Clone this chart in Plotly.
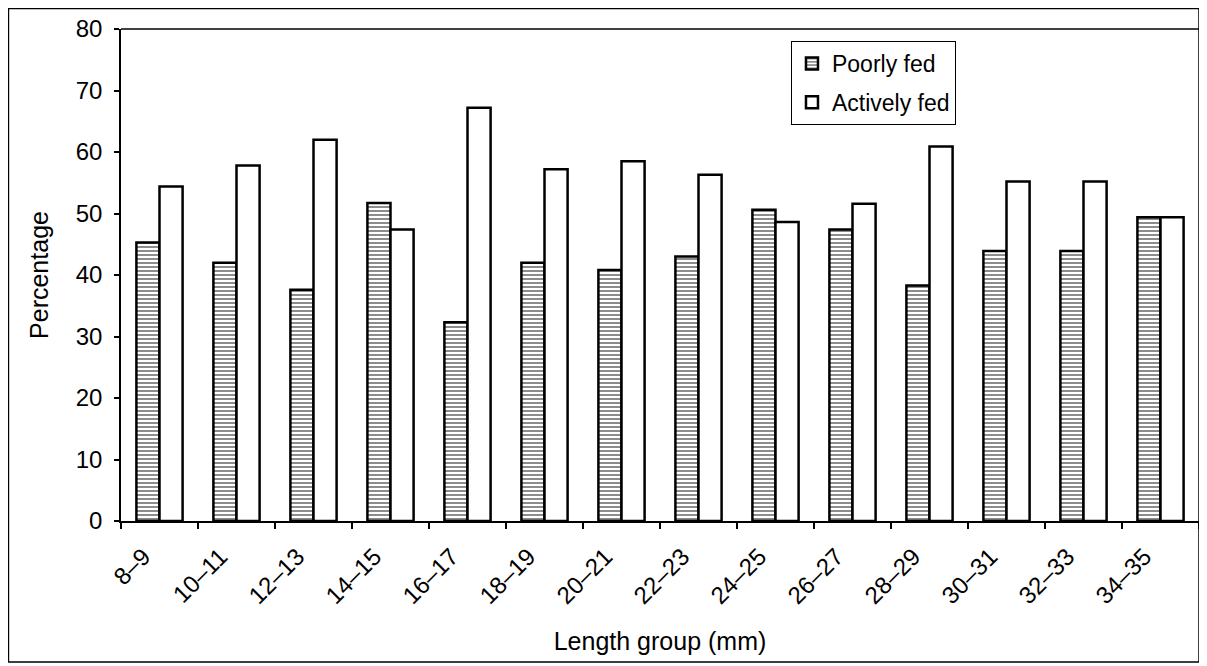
import plotly.graph_objects as go

categories = ["8–9", "10–11", "12–13", "14–15", "16–17", "18–19", "20–21",
              "22–23", "24–25", "26–27", "28–29", "30–31", "32–33", "34–35"]
poorly_fed = [45.3, 42.0, 37.6, 51.7, 32.3, 42.0, 40.8, 43.0, 50.6, 47.4, 38.3, 43.9, 43.9, 49.4]
actively_fed = [54.4, 57.8, 62.0, 47.4, 67.2, 57.2, 58.5, 56.3, 48.6, 51.6, 60.9, 55.2, 55.2, 49.4]
y_ticks = [0, 10, 20, 30, 40, 50, 60, 70, 80]

FONT = "Arial, Liberation Sans, sans-serif"

fig = go.Figure()
fig.add_trace(go.Bar(
    x=categories, y=poorly_fed, name="Poorly fed", legendgroup="poor",
    marker=dict(color="white", line=dict(color="black", width=2.5),
                pattern=dict(shape="-", fgcolor="black", bgcolor="white", size=4, solidity=0.45)),
))
fig.add_trace(go.Bar(
    x=categories, y=actively_fed, name="Actively fed", legendgroup="active",
    marker=dict(color="white", line=dict(color="black", width=2.5)),
))

fig.update_layout(
    width=1207, height=666,
    margin=dict(l=113, r=16, t=21, b=153, autoexpand=False),
    paper_bgcolor="white", plot_bgcolor="white",
    barmode="group", bargap=0.4, bargroupgap=0,
    font=dict(family=FONT, color="black"),
    showlegend=True,
    legend=dict(x=0.6215, y=0.9756, xanchor="left", yanchor="top",
                bordercolor="black", borderwidth=1, bgcolor="white",
                font=dict(size=23, family=FONT), traceorder="grouped",
                tracegroupgap=6, itemwidth=30),
    xaxis=dict(
        type="category", showline=True, linecolor="black", linewidth=2,
        ticks="outside", tickson="boundaries", ticklen=6, tickwidth=1.5, tickcolor="black",
        tickangle=-45, tickfont=dict(size=24, family=FONT), ticklabelstandoff=10,
        ticklabelshift=-16,
        title=dict(text="Length group (mm)", font=dict(size=25, family=FONT), standoff=24),
        showgrid=False, automargin=False,
    ),
    yaxis=dict(
        range=[0, 80], tickvals=y_ticks, showline=True, linecolor="black", linewidth=1.5,
        ticks="outside", ticklen=5, tickwidth=1.5, tickcolor="black",
        tickfont=dict(size=24, family=FONT), ticklabelstandoff=7,
        title=dict(text="Percentage", font=dict(size=25, family=FONT), standoff=20),
        showgrid=False, zeroline=False, automargin=False,
    ),
    shapes=[
        dict(type="line", xref="paper", yref="paper", x0=0, x1=1, y0=1, y1=1,
             line=dict(color="black", width=1.5)),
        dict(type="rect", xref="paper", yref="paper", x0=-0.1044, x1=1.0, y0=-0.2866, y1=1.0417,
             line=dict(color="black", width=1.5)),
    ],
)

fig.write_html("out.html")
